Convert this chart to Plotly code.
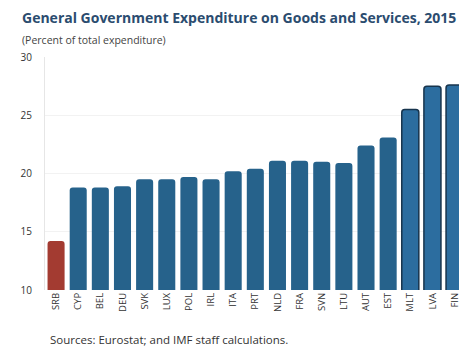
import plotly.graph_objects as go

# General government expenditure on goods and services, 2015 (percent of total expenditure)
countries = ["SRB", "CYP", "BEL", "DEU", "SVK", "LUX", "POL", "IRL", "ITA", "PRT",
             "NLD", "FRA", "SVN", "LTU", "AUT", "EST", "MLT", "LVA", "FIN"]
values = [14.2, 18.8, 18.8, 18.9, 19.5, 19.5, 19.7, 19.5, 20.2, 20.4,
          21.1, 21.1, 21.0, 20.9, 22.4, 23.1, 25.5, 27.5, 27.6]
highlight = "SRB"
outlined = ["MLT", "LVA", "FIN"]

y_ticks = [10, 15, 20, 25, 30]

RED = "#a33b31"
BLUE = "#26628b"
BLUE_LIGHT = "#2c6d9f"
NAVY = "#17344d"

fill_colors = []
line_colors = []
line_widths = []
for c in countries:
    if c == highlight:
        fill_colors.append(RED)
        line_colors.append(RED)
        line_widths.append(0)
    elif c in outlined:
        fill_colors.append(BLUE_LIGHT)
        line_colors.append(NAVY)
        line_widths.append(1.5)
    else:
        fill_colors.append(BLUE)
        line_colors.append(BLUE)
        line_widths.append(0)

fig = go.Figure(
    go.Bar(
        x=countries,
        y=values,
        base=0,
        marker=dict(color=fill_colors, line=dict(color=line_colors, width=line_widths),
                    cornerradius=3),
        hoverinfo="x+y",
    )
)

fig.update_layout(
    width=461,
    height=349,
    margin=dict(l=45, r=0, t=57, b=59),
    paper_bgcolor="white",
    plot_bgcolor="white",
    bargap=0.23,
    showlegend=False,
    font=dict(family="Open Sans, Liberation Sans, Arial, sans-serif", color="#333333"),
    xaxis=dict(
        type="category",
        range=[-0.5, 18.2],
        tickangle=-90,
        tickfont=dict(size=9.5, color="#333333"),
        showline=False,
        showgrid=False,
        ticks="",
    ),
    yaxis=dict(
        range=[10, 30],
        tickvals=y_ticks,
        ticktext=[str(v) for v in y_ticks],
        tickfont=dict(size=10, color="#333333"),
        showgrid=True,
        gridcolor="#f2f2f2",
        gridwidth=1,
        zeroline=False,
        showline=True,
        linecolor="#e6e6e6",
        linewidth=1,
        ticks="",
        ticklabelstandoff=10,
    ),
)

fig.add_annotation(
    text="<b>General Government Expenditure on Goods and Services, 2015</b>",
    xref="paper", yref="paper", x=-25 / 416, y=1 + 39 / 233,
    xanchor="left", yanchor="middle", showarrow=False,
    font=dict(size=14, color="#2b4c6f"),
)
fig.add_annotation(
    text="(Percent of total expenditure)",
    xref="paper", yref="paper", x=-25 / 416, y=1 + 17 / 233,
    xanchor="left", yanchor="middle", showarrow=False,
    font=dict(size=10.5, color="#444444"),
)
fig.add_annotation(
    text="Sources: Eurostat; and IMF staff calculations.",
    xref="paper", yref="paper", x=3 / 416, y=-49 / 233,
    xanchor="left", yanchor="middle", showarrow=False,
    font=dict(size=11.5, color="#333333"),
)

fig.write_html("out.html")
